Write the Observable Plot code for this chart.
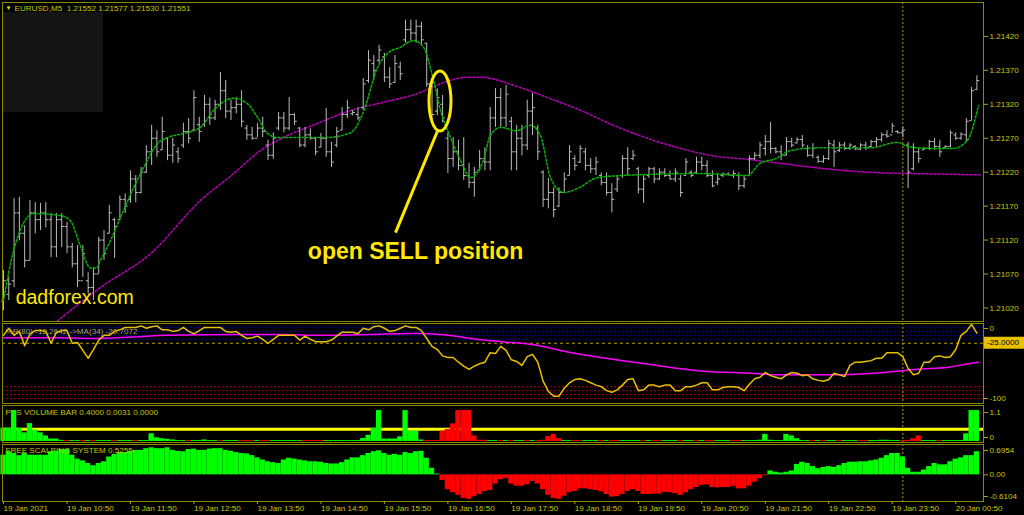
<!DOCTYPE html>
<html><head><meta charset="utf-8">
<script src="https://cdn.jsdelivr.net/npm/d3@7"></script>
<script src="https://cdn.jsdelivr.net/npm/@observablehq/plot@0.6"></script>
<style>
html,body{margin:0;padding:0;background:#000;}
#wrap{position:relative;width:1024px;height:515px;background:#000;overflow:hidden;}
#wrap svg{position:absolute;left:0;}
#shade{position:absolute;left:3px;top:12px;width:100px;height:100px;background:#141414;}
</style></head><body><div id="wrap"><div id="shade"></div></div>
<script>
// ---- DATA (EURUSD M5, 19 Jan 2021 09:50 .. 20 Jan 01:10) ----
// prices are given in pips above BASE
const BASE = 1.21;
const hiP = [7.5,6.5,18.1,18.3,14.1,17.8,17.5,17.4,17.5,15.9,
15.9,15.9,14.6,11.5,11.2,11.2,7.2,7.9,12.4,13.4,
17.1,15.2,18.5,18.8,22.2,21.5,22.7,25.9,28.9,28.1,
30.1,27.1,27.0,25.6,29.2,29.9,34.0,30.1,33.3,32.9,
32.6,36.7,35.5,32.6,33.0,34.0,28.9,28.6,29.2,30.1,
26.7,27.8,30.8,30.8,33.0,30.6,28.6,28.6,28.4,27.1,
27.7,31.4,26.4,28.6,31.5,32.6,31.1,31.5,35.8,39.9,
39.2,40.7,39.5,37.4,39.2,38.2,44.4,44.4,44.4,44.1,
41.0,35.1,34.3,33.3,27.7,27.1,26.7,27.1,23.3,22.7,
25.2,25.6,31.5,34.3,34.3,34.8,30.1,28.9,28.9,32.6,
33.6,28.9,22.2,21.1,19.7,19.7,21.9,25.9,24.4,25.9,
25.5,24.0,24.2,21.9,21.9,20.3,21.5,24.4,25.6,25.2,
22.7,21.5,22.7,22.7,22.5,22.5,22.2,22.5,21.5,24.0,
22.2,24.2,24.2,23.7,22.2,21.8,21.9,21.9,22.2,21.9,
21.5,24.4,24.9,26.4,27.4,29.3,25.6,25.9,27.1,27.0,
27.1,27.4,25.9,26.2,24.4,24.4,26.7,26.7,26.4,26.4,
26.2,25.9,26.2,26.4,26.7,27.1,27.8,28.1,29.2,28.1,
28.6,26.4,26.2,25.5,25.6,26.7,27.0,26.7,25.9,28.1,
27.8,27.8,29.9,34.5,36.2];
const loP = [1.6,3.1,5.0,11.9,7.9,9.0,12.9,13.4,13.8,9.4,
9.4,10.9,10.0,7.9,5.0,6.5,4.1,3.1,7.0,9.0,
12.9,9.3,14.9,15.9,17.4,17.5,18.8,21.8,23.0,24.2,
25.2,23.7,23.3,23.3,25.5,26.2,28.1,26.4,28.6,28.9,
29.6,31.1,29.9,29.6,30.6,28.6,26.7,26.7,27.1,27.1,
23.7,23.9,28.1,27.8,28.1,28.9,25.6,25.6,26.7,24.4,
25.6,24.2,22.7,25.6,28.1,29.9,30.3,29.6,31.1,35.1,
35.5,38.0,35.2,34.3,35.1,35.5,41.0,41.4,41.0,40.7,
34.5,29.6,30.3,29.3,21.8,22.7,22.2,20.8,19.6,18.3,
22.2,22.2,22.2,28.6,28.6,28.6,22.2,22.2,24.4,25.2,
27.4,23.7,16.8,16.6,15.3,16.8,19.0,21.5,22.2,23.3,
22.2,21.8,21.5,20.0,18.5,16.0,19.0,21.1,21.5,23.7,
18.8,17.4,21.1,20.3,20.8,21.2,20.8,20.5,18.3,21.5,
21.2,21.8,22.2,21.2,19.7,20.0,21.2,21.5,21.1,19.3,
19.6,21.5,23.7,24.0,24.4,24.7,24.7,23.7,24.4,25.6,
26.2,25.5,24.2,24.0,23.3,23.3,23.7,22.7,24.9,25.2,
25.2,25.2,25.2,25.2,25.6,25.6,26.4,27.0,27.7,27.7,
27.1,19.6,22.2,23.3,25.2,25.2,25.2,24.2,25.5,25.6,
26.7,26.7,26.4,29.6,34.0];
const opP = [3,4,6,16,13,9,16,15,16,15,
11,15,14,11,8.5,6,6,5,7,12,
13,15,15,18,18,21,19,22,25,27,
25.3,27,24.5,25,26,28,28.2,29,29,32,
30,32,34,31,31.5,32,28.5,27.5,27,28.5,
26,24.5,28.5,30,28.5,30.5,28.5,26,27.5,27,
25.7,27,25,26,28.2,30.5,30.6,30.5,31.5,35.5,
38,38.5,39,36,35.2,37.5,41.5,43,42.5,43.5,
41,35,31,32,27,24,25,23,21.5,20.5,
22.3,24,23.5,30,33,30,29.5,25,27,26,
31,28.5,22,18,19,17,19,21.5,24,23.5,
25,23,22.5,21.5,20.5,19,19.5,21.5,24,24,
22.5,19.5,21.5,22.5,21,22,21.5,21,21,21.5,
22,22,23.5,23,21.5,20.5,21.5,21.7,21.5,21.5,
20,21.5,24,24.5,25.5,26.5,25.5,25,24.5,26.5,
26.3,26.8,25.5,24.5,24.2,23.6,24,26,25.2,26,
25.5,25.8,25.4,26,25.8,26.5,26.8,27.5,27.5,28,
27.8,26,22.5,25,25.3,25.5,26.5,25.8,25.6,25.8,
27.5,27,27.5,29.6,34.2];
const clP = [6,5.5,16,13,9,16,15,16,15,11,
15,14,11,8.5,6,10,5,7,12,10,
16,14,18,17,21,19,22,25,27,25,
28,24.5,26,24,28,27,33,28,32,30,
32,34,31,31.5,32,29.5,27.5,27,28.5,28,
24.5,27,30,28.5,30.5,29.5,26,27.5,27,25,
27,25,23.5,28,30.5,31.5,30.8,30,35,38.5,
37,40,36,35,38,36.5,43,42.5,43.5,41.5,
35,30.5,33,30,24,25,23,21.5,20.5,22,
24,23.5,30,33,30,33.5,25,27,26,31,
31.5,25,18,19,16.5,19,21,25,23,25.5,
23,22.5,23.5,20.5,19,18,21,24,22.5,24.5,
19.5,21,22.5,21,22,21.5,21,22,19,23.5,
21.5,23.5,23,21.5,20,21,21.7,21.6,21.8,20,
21,24,24.5,26,26.5,25.5,25,24.5,26.5,26,
26.8,26,24.5,25.5,23.6,24,26.2,25,26,25.5,
26,25.4,26,25.6,26.5,26.8,27.5,27.3,28.8,27.8,
28.2,22,25,24,25.5,26.5,25.8,25,25.8,27.8,
27,27.6,29.5,34,35.5];
// fast MA (green dotted): bar index / pips
const fastIdx = [0,1.9,5.7,10.8,12.6,14.5,16.4,17.6,18.3,20.2,22.1,24.6,26.5,29.1,31,34,37.2,39.7,43.5,46.1,48,49.9,51.8,56,61,65.6,67.9,70.7,72.6,75,77.5,79.4,81.3,82.6,84.5,86.4,88.3,90.7,92,94,96.8,99.6,101.5,103.4,105.9,108.5,112.3,116.6,131.8,140.6,143,146,148.8,154.4,163.9,169,170.5,172.8,175.8,179.6,182.2,184.3];
const fastVal = [3.1,10.4,15.9,15.6,14.9,11.2,7.9,7.9,9.0,11.9,15.3,19.7,22.7,26.2,27.1,27.7,28.6,31.1,32.9,32.1,30.1,27.7,27.1,27.1,27.1,27.8,30.6,37.4,39.5,40.4,41.4,40.4,35.5,31.1,27.1,23.7,21.2,23.7,27.4,28.6,28.1,28.9,27.4,21.2,19.0,19.6,21.2,21.5,21.8,21.5,23.3,24.0,25.2,25.6,25.6,26.4,25.9,25.6,25.5,25.5,26.7,31.8];
// slow MA (purple dotted)
const slowIdx = [10.2,18.3,27.8,37.2,43.5,48.6,52.9,59.4,65.6,71.8,78.3,83.2,87.7,90.2,96.4,102.8,109.1,115.3,121.7,128,134.2,140.6,146.9,153.1,159.5,165.8,172,184.7];
const slowVal = [0.1,5.0,10.0,17.8,21.8,25.2,27.1,29.2,31.1,32.3,33.6,35.2,36.0,36.0,34.8,33.0,31.1,28.9,27.0,25.5,24.4,23.9,23.3,22.7,22.2,21.9,21.8,21.6];
// Williams %R(80)
const wpr = [-15,-6,-15,-10,-28,-13,-9,-9,-10,-25,
-11,-9,-9,-25,-24,-34,-44,-33,-21,-15,
-15,-10,-8,-5,-5,-5,-3,-6,-4,-3,
-8,-8,-10,-9,-5,-10,-13,-9,-5,-5,
-5,-5,-10,-11,-10,-15,-19,-18,-16,-20,
-25,-20,-15,-15,-15,-15,-21,-16,-20,-23,
-23,-23,-21,-16,-11,-11,-11,-13,-6,-8,
-4,-3,-6,-10,-9,-6,-3,-5,-5,-9,
-19,-29,-33,-41,-43,-43,-49,-54,-58,-54,
-51,-49,-37,-38,-29,-34,-46,-48,-53,-42,
-39,-49,-73,-86,-92,-92,-82,-75,-71,-70,
-72,-75,-78,-80,-85,-87,-84,-78,-71,-70,
-85,-84,-78,-78,-80,-78,-78,-85,-85,-80,
-80,-78,-75,-75,-84,-84,-81,-80,-80,-81,
-85,-77,-70,-68,-62,-66,-68,-70,-65,-62,
-63,-66,-65,-70,-72,-73,-71,-63,-65,-67,
-53,-49,-49,-48,-47,-44,-44,-37,-37,-37,
-42,-57,-65,-63,-49,-49,-42,-41,-43,-42,
-33,-15,-10,-1,-12.26];
const wprMaIdx = [0,10.8,16.4,24.6,31,43.5,52.9,59.9,68.8,76.9,79.4,82.6,86.4,90.2,94,100.2,106.6,112.9,122.3,131.8,141.2,147.4,156.9,166.4,172.8,179,182.4,184.3];
const wprMaVal = [-18,-18,-19,-17,-15,-14,-14,-15,-14,-12.5,-12.5,-14,-17,-20.5,-23,-27,-36,-43,-52,-60,-63,-65,-65,-62,-58,-55,-51,-49];
const wprLevelsHigh = [-5,-10,-15,-20];
const wprLevelsLow = [-80,-85,-90,-95];
const wprSignal = [-25];
// PSS volume bar
const vol = [0.43,0.43,1.0,0.43,0.28,0.58,0.37,0.28,0.18,0.08,
0.08,0.03,0.03,0.03,0.03,0.03,0.03,0.03,0.03,0.03,
0.03,0.03,0.03,0.03,0.03,0.03,0.03,0.03,0.25,0.12,
0.09,0.07,0.05,0.03,0.03,0.03,0.03,0.03,0.05,0.03,
0.03,0.03,0.03,0.03,0.03,0.03,0.03,0.03,0.03,0.03,
0.03,0.03,0.03,0.03,0.03,0.03,0.03,0.03,0.03,0.03,
0.03,0.03,0.03,0.03,0.03,0.03,0.03,0.03,0.10,0.20,
0.43,1.0,0.08,0.08,0.08,0.15,1.0,0.33,0.33,0.05,
0.03,0.03,0.03,0.34,0.39,0.57,1.0,1.0,1.0,0.18,
0.04,0.04,0.03,0.03,0.03,0.03,0.03,0.03,0.03,0.03,
0.03,0.03,0.04,0.16,0.23,0.09,0.03,0.03,0.03,0.03,
0.03,0.03,0.03,0.03,0.03,0.03,0.03,0.03,0.03,0.03,
0.03,0.03,0.03,0.03,0.03,0.03,0.03,0.03,0.03,0.03,
0.03,0.03,0.03,0.03,0.03,0.03,0.03,0.03,0.03,0.03,
0.03,0.03,0.03,0.04,0.23,0.04,0.03,0.03,0.23,0.18,
0.09,0.03,0.03,0.03,0.03,0.03,0.03,0.03,0.03,0.03,
0.03,0.03,0.03,0.03,0.03,0.03,0.04,0.04,0.03,0.03,
0.03,0.03,0.09,0.18,0.03,0.03,0.03,0.03,0.03,0.03,
0.03,0.03,0.25,1.0,1.0];
const volDir = ("ggggggggggg" + "grggrgrgggrgggrgg" + "ggggg" + "ggrgg" + "g" +
  "ggrgggrrrgrrggggggrrrrggggggg" + "gggggggggggg" + "rrr" + "rrrrrrrrr" + "ggrgrggrgr" +
  "rrrr" + "ggrrgggrgrrggggrgrrgggrggrgrrgggrrggg" + "ggggggggg" + "grgrggrgggrrgg" +
  "gg" + "ggrr" + "rr" + "gggrgggg" + "ggg").split("");
const volLevel = [0.4];
// Free scalping system histogram
const scalp = [0.45,0.53,0.49,0.44,0.49,0.45,0.45,0.45,0.45,0.53,
0.54,0.58,0.58,0.45,0.36,0.32,0.26,0.21,0.26,0.30,
0.41,0.47,0.51,0.51,0.54,0.56,0.56,0.60,0.62,0.60,
0.60,0.62,0.56,0.54,0.53,0.58,0.59,0.56,0.56,0.59,
0.60,0.60,0.56,0.54,0.51,0.49,0.48,0.44,0.39,0.34,
0.30,0.28,0.26,0.34,0.38,0.36,0.34,0.32,0.30,0.30,
0.29,0.26,0.25,0.25,0.28,0.34,0.39,0.39,0.44,0.49,
0.53,0.55,0.49,0.45,0.47,0.45,0.51,0.49,0.53,0.54,
0.38,0.15,0.02,-0.13,-0.34,-0.41,-0.47,-0.54,-0.56,-0.50,
-0.45,-0.38,-0.36,-0.21,-0.11,-0.08,-0.21,-0.26,-0.26,-0.23,
-0.15,-0.21,-0.34,-0.47,-0.54,-0.56,-0.49,-0.41,-0.38,-0.32,
-0.32,-0.34,-0.36,-0.39,-0.45,-0.51,-0.50,-0.45,-0.38,-0.34,
-0.38,-0.45,-0.45,-0.44,-0.44,-0.40,-0.41,-0.43,-0.47,-0.41,
-0.34,-0.29,-0.24,-0.23,-0.29,-0.30,-0.29,-0.29,-0.26,-0.32,
-0.32,-0.26,-0.17,-0.09,-0.02,0.09,0.06,0.04,0.06,0.09,
0.24,0.29,0.26,0.19,0.14,0.17,0.19,0.17,0.21,0.26,
0.29,0.29,0.30,0.30,0.32,0.34,0.38,0.44,0.49,0.49,
0.41,0.15,0.06,0.06,0.11,0.19,0.26,0.23,0.23,0.30,
0.36,0.39,0.44,0.44,0.53];
// axes
const priceTicks = [1.21020,1.21070,1.21120,1.21170,1.21220,1.21270,1.21320,1.21370,1.21420];
const timeTickIdx = [0,12,24,36,48,60,72,84,96,108,120,132,144,156,168,180];
const timeTickLabels = ["19 Jan 2021","19 Jan 10:50","19 Jan 11:50","19 Jan 12:50","19 Jan 13:50","19 Jan 14:50","19 Jan 15:50","19 Jan 16:50","19 Jan 17:50","19 Jan 18:50","19 Jan 19:50","19 Jan 20:50","19 Jan 21:50","19 Jan 22:50","19 Jan 23:50","20 Jan 00:50"];
const daySeparator = [170];
// texts and annotations
const headerText = "EURUSD,M5  1.21552 1.21577 1.21530 1.21551";
const wprText = "%R(80) -12.2642 ->MA(34) -20.7072";
const volText = "PSS VOLUME BAR 0.4000 0.0031 0.0000";
const scalpText = "FREE SCALPING SYSTEM 0.5255";
const siteNote = [{i: 2.3, p: 3.5, text: "dadforex.com"}];
const sellNote = [{i: 77.9, p: 10.3, text: "open SELL position"}];
const arrowLine = [{i1: 82.0, p1: 28.0, i2: 74.1, p2: 13.1}];
const ellipseAt = {i: 82.6, p: 32.4};
const wprScaleTicksTop = [0], wprScaleTicksBottom = [-100];
const volScaleTop = [1.1], volScaleBottom = [0];
const scalpMax = 0.6954, scalpMin = -0.6104;

// ---- BUILD ----
const px = v => BASE + v / 10000;
const bars = hiP.map((h, i) => ({i, hi: px(h), lo: px(loP[i]), op: px(opP[i]), cl: px(clP[i])}));
const fast = fastIdx.map((i, k) => ({i, v: px(fastVal[k])}));
const slow = slowIdx.map((i, k) => ({i, v: px(slowVal[k])}));
const wprData = wpr.map((v, i) => ({i, v}));
const wprMa = wprMaIdx.map((i, k) => ({i, v: wprMaVal[k]}));
const volData = vol.map((v, i) => ({i, v, c: volDir[i] === "g" ? "#00ff00" : "#ff0000"}));
const scalpData = scalp.map((v, i) => ({i, v, c: v >= 0 ? "#00ff00" : "#ff0000"}));

const FS = "8.1px";
const FRAME = "#8a8a00", TXT = "#c8c800", TICK = "#a8a800", BAR = "#bcbcbc", YEL = "#ffe800";
const xOpt = {domain: [-0.19, 185.25]};
const common = {
  width: 1024, marginLeft: 2, marginRight: 41,
  style: {background: "transparent", fontFamily: "Liberation Sans, Arial, sans-serif", fontSize: FS, color: TXT, overflow: "visible"}
};
const sepRule = () => Plot.ruleX(daySeparator, {stroke: "#b0a000", strokeDasharray: "2,2"});
const rightAxis = (ticks, fmt, dy) => Plot.axisY({anchor: "right", ticks, tickFormat: fmt, tickSize: 4, tickPadding: 2, stroke: TICK, fill: TXT, dy, label: null});

const wrap = document.getElementById("wrap");
function place(svg, top) { svg.style.top = top + "px"; wrap.appendChild(svg); return svg; }

// main price panel
const main = Plot.plot({
  ...common, height: 322, marginTop: 2, marginBottom: 1,
  x: {...xOpt, axis: null},
  y: {domain: [px(0), px(47)]},
  marks: [
    sepRule(),
    Plot.line(slow, {x: "i", y: "v", stroke: "#b400b4", strokeDasharray: "2,2", curve: "monotone-x", clip: true}),
    Plot.ruleX(bars, {x: "i", y1: "lo", y2: "hi", stroke: BAR}),
    Plot.link(bars, {x1: d => d.i - 0.45, x2: "i", y1: "op", y2: "op", stroke: BAR}),
    Plot.link(bars, {x1: "i", x2: d => d.i + 0.45, y1: "cl", y2: "cl", stroke: BAR}),
    Plot.line(fast, {x: "i", y: "v", stroke: "#00b400", strokeDasharray: "2,2", curve: "monotone-x"}),
    Plot.frame({stroke: FRAME}),
    rightAxis(priceTicks, d => d.toFixed(5), 0),
    Plot.text([headerText], {frameAnchor: "top-left", dx: 12, dy: 3, text: d => d, fill: TXT}),
    Plot.text(["▼"], {frameAnchor: "top-left", dx: 3, dy: 3, text: d => d, fill: "#e8e800", fontSize: 6}),
    Plot.text(siteNote, {x: "i", y: d => px(d.p), text: "text", textAnchor: "start", fill: YEL, fontSize: 19.5}),
    Plot.text(sellNote, {x: "i", y: d => px(d.p), text: "text", fill: YEL, fontSize: 23, fontWeight: "bold"}),
    Plot.link(arrowLine, {x1: "i1", y1: d => px(d.p1), x2: "i2", y2: d => px(d.p2), stroke: YEL, strokeWidth: 3})
  ]
});
place(main, 0);
{
  const sx = main.scale("x"), sy = main.scale("y");
  d3.select(main).append("ellipse")
    .attr("cx", sx.apply(ellipseAt.i)).attr("cy", sy.apply(px(ellipseAt.p)))
    .attr("rx", 11).attr("ry", 30).attr("fill", "none").attr("stroke", YEL).attr("stroke-width", 3);
}

// %R panel
const wprPlot = Plot.plot({
  ...common, height: 83, marginTop: 2, marginBottom: 1,
  x: {...xOpt, axis: null},
  y: {domain: [-100, 0], insetBottom: 1},
  marks: [
    Plot.ruleY(wprLevelsHigh, {stroke: "#0000b4", strokeDasharray: "2,2"}),
    Plot.ruleY(wprLevelsLow, {stroke: "#b40000", strokeDasharray: "2,2"}),
    Plot.ruleY(wprSignal, {stroke: "#b8a000", strokeDasharray: "3,3"}),
    sepRule(),
    Plot.text([wprText], {frameAnchor: "top-left", dx: 3, dy: 5, text: d => d, fill: "#a8a860"}),
    Plot.line(wprMa, {x: "i", y: "v", stroke: "#ff00ff", strokeWidth: 1.5, curve: "monotone-x"}),
    Plot.line(wprData, {x: "i", y: "v", stroke: "#e8c000", strokeWidth: 1.5}),
    Plot.frame({stroke: FRAME}),
    rightAxis(wprScaleTicksTop, d => String(d), 5),
    rightAxis(wprScaleTicksBottom, d => String(d), -4)
  ]
});
place(wprPlot, 321);
{
  const sx = wprPlot.scale("x"), sy = wprPlot.scale("y");
  const x0 = sx.range[1] + 1, yy = sy.apply(wprSignal[0]);
  const g = d3.select(wprPlot).append("g");
  g.append("rect").attr("x", x0).attr("y", yy - 6).attr("width", 41).attr("height", 12).attr("fill", "#e8c000");
  g.append("text").attr("x", x0 + 3).attr("y", yy).attr("dy", "0.32em").attr("fill", "#000")
    .attr("text-anchor", "start").attr("font-size", FS).text(wprSignal[0].toFixed(4));
}

// volume panel
const volPlot = Plot.plot({
  ...common, height: 40, marginTop: 2, marginBottom: 1,
  x: {...xOpt, axis: null},
  y: {domain: [0, 1.1], insetTop: 2, insetBottom: 1},
  color: {type: "identity"},
  marks: [
    sepRule(),
    Plot.text([volText], {frameAnchor: "top-left", dx: 3, dy: 4, text: d => d, fill: TXT}),
    Plot.ruleY(volLevel, {stroke: "#ffff00", strokeWidth: 3}),
    Plot.rect(volData, {x1: d => d.i - 0.5, x2: d => d.i + 0.5, y1: 0, y2: "v", fill: "c"}),
    Plot.frame({stroke: FRAME}),
    rightAxis(volScaleTop, d => String(d), 5),
    rightAxis(volScaleBottom, d => String(d), -4)
  ]
});
place(volPlot, 403);

// scalping panel
const scalpPlot = Plot.plot({
  ...common, height: 73, marginTop: 2, marginBottom: 14,
  x: {...xOpt},
  y: {domain: [scalpMin, scalpMax]},
  color: {type: "identity"},
  marks: [
    sepRule(),
    Plot.rect(scalpData, {x1: d => d.i - 0.5, x2: d => d.i + 0.5, y1: 0, y2: "v", fill: "c"}),
    Plot.text([scalpText], {frameAnchor: "top-left", dx: 3, dy: 3, text: d => d, fill: TXT}),
    Plot.frame({stroke: FRAME}),
    rightAxis([scalpMax], d => d.toFixed(4), 6),
    rightAxis([0], d => "0.00", 0),
    rightAxis([scalpMin], d => d.toFixed(4), -5),
    Plot.axisX({anchor: "bottom", ticks: timeTickIdx, tickFormat: d => timeTickLabels[timeTickIdx.indexOf(d)],
      tickSize: 3, tickPadding: 1, textAnchor: "start", dx: 0, stroke: TICK, fill: TXT, label: null})
  ]
});
place(scalpPlot, 442);
</script>
</body></html>
